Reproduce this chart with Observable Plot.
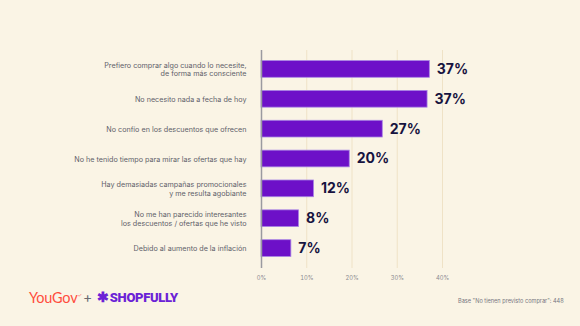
<!DOCTYPE html>
<html>
<head>
<meta charset="utf-8">
<script src="https://cdn.jsdelivr.net/npm/d3@7"></script>
<script src="https://cdn.jsdelivr.net/npm/@observablehq/plot@0.6"></script>
<style>
  html, body { margin: 0; padding: 0; background: #faf4e5; }
  #wrap { position: relative; width: 580px; height: 326px; overflow: hidden; background: #faf4e5; font-family: Inter, "Open Sans", sans-serif; }
  #chart svg { display: block; }
  #footer { position: relative; width: 580px; height: 38px; }
  .yougov { position: absolute; left: 29px; top: 1px; font-family: Lato, Inter, sans-serif; font-size: 14.5px; color: #ff4d3d; letter-spacing: -0.2px; }
  .plus { position: absolute; left: 83px; top: 0px; font-size: 14px; color: #6a6a72; }
  .shop { position: absolute; left: 97px; top: 1px; font-family: Roboto, "Liberation Sans", sans-serif; font-weight: 900; font-size: 13px; color: #6b22d6; letter-spacing: -0.3px; }
  .shop .star { font-size: 14px; margin-right: 1px; }
  .base { position: absolute; left: 458px; top: 10px; font-size: 5.6px; color: #77777f; white-space: nowrap; }
</style>
</head>
<body>
<div id="wrap">
  <div id="chart"></div>
  <div id="footer">
    <span class="yougov">YouGov<sup style="font-size:5px">✓</sup></span>
    <span class="plus">+</span>
    <span class="shop"><span class="star">✱</span>SHOPFULLY</span>
    <span class="base">Base "No tienen previsto comprar": 448</span>
  </div>
</div>
<script>
const categories = [
  "Prefiero comprar algo cuando lo necesite,\nde forma más consciente",
  "No necesito nada a fecha de hoy",
  "No confío en los descuentos que ofrecen",
  "No he tenido tiempo para mirar las ofertas que hay",
  "Hay demasiadas campañas promocionales\ny me resulta agobiante",
  "No me han parecido interesantes\nlos descuentos / ofertas que he visto",
  "Debido al aumento de la inflación"
];
const values = [37.2, 36.7, 26.8, 19.5, 11.6, 8.3, 6.6];
const xTicks = [0, 10, 20, 30, 40];
const gridTicks = [10, 20, 30, 40];

const data = categories.map((c, i) => ({category: c, value: values[i]}));

const chart = Plot.plot({
  width: 580,
  height: 288,
  marginTop: 50,
  marginBottom: 20,
  marginLeft: 261,
  marginRight: 138,
  style: {background: "transparent", fontFamily: "Inter, 'Open Sans', sans-serif"},
  x: {domain: [0, 40], ticks: xTicks, tickFormat: d => d + "%", label: null},
  y: {domain: categories, paddingInner: 0.44, paddingOuter: 0.22, insetTop: 4, insetBottom: 5, round: false, label: null},
  marks: [
    Plot.ruleX(gridTicks, {stroke: "#efe2c6", strokeWidth: 1}),
    Plot.barX(data, {x: "value", y: "category", fill: "#6d10c8", stroke: "#a884e4", strokeWidth: 0.8}),
    Plot.ruleX([0], {stroke: "#9a9aa0", strokeWidth: 1.5}),
    Plot.text(data, {x: "value", y: "category", text: d => Math.round(d.value) + "%", textAnchor: "start", dx: 7, fontSize: 14, fontWeight: 700, fill: "#17133f"}),
    Plot.axisX({ticks: xTicks, tickFormat: d => d + "%", tickSize: 0, tickPadding: 7, fontSize: 5.8, fill: "#8a8a90", label: null}),
    Plot.axisY({tickSize: 0, tickPadding: 15, fontSize: 7.2, lineHeight: 1.15, fill: "#5f5f6a", textAnchor: "end", label: null})
  ]
});
document.getElementById("chart").appendChild(chart);
</script>
</body>
</html>
